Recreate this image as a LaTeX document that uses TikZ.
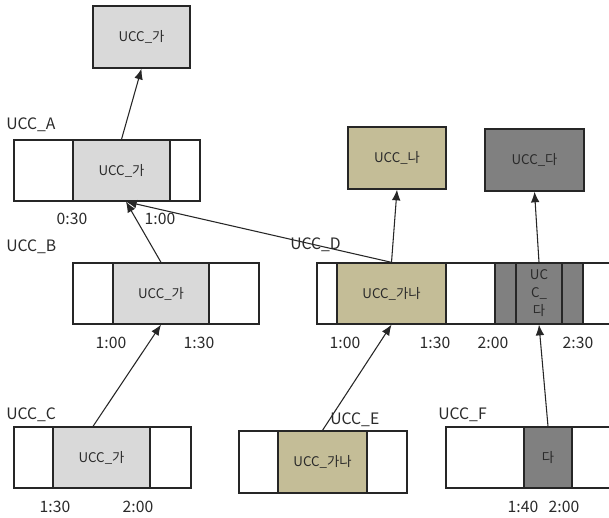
\documentclass[tikz,border=0pt]{standalone}
\usepackage{fontspec}
\setmainfont{Noto Sans CJK KR}
\usetikzlibrary{arrows.meta,positioning,calc}
\definecolor{lgray}{HTML}{D9D9D9}
\definecolor{tan}{HTML}{C4BD97}
\definecolor{dgray}{HTML}{808080}
\definecolor{edge}{HTML}{262626}
\definecolor{txt}{HTML}{2A2A2A}
\newdimen\px \px=0.75pt
\tikzset{
  box/.style={draw=edge,line width=1pt,rectangle,inner sep=0pt,minimum height=61\px,text=txt,font=\fontsize{10}{12}\selectfont},
  outerbox/.style={box,fill=white},
  lbl/.style={text=txt,font=\fontsize{11.8}{13}\selectfont,inner sep=0pt},
  conn/.style={draw=edge,line width=0.8pt,-{Latex[length=8pt,width=6.5pt]}},
}
\begin{document}
\begin{tikzpicture}[x=0.75pt,y=-0.75pt]
\useasboundingbox (0,0) rectangle (609,517);
\fill[white] (0,0) rectangle (609,517);
\clip (0,0) rectangle (609,517);
% top box
\node[box,fill=lgray,minimum width=97\px,minimum height=62\px] (top1) at (141.5,37) {UCC\_가};
% A
\node[outerbox,minimum width=186\px] (Ao) at (107,170.5) {};
\node[box,fill=lgray,minimum width=97\px] (Ai) at (121.5,170.5) {UCC\_가};
\node[lbl,anchor=west] (Alab) at (6,125) {UCC\_A};
\node[lbl] (At1) at (72,219) {0:30};
\node[lbl] (At2) at (160,219) {1:00};
% B
\node[outerbox,minimum width=186\px] (Bo) at (166,293.5) {};
\node[box,fill=lgray,minimum width=96\px] (Bi) at (161,293.5) {UCC\_가};
\node[lbl,anchor=west] (Blab) at (6,247) {UCC\_B};
\node[lbl] (Bt1) at (111,343) {1:00};
\node[lbl] (Bt2) at (199,343) {1:30};
% C
\node[outerbox,minimum width=177\px] (Co) at (102.5,457.5) {};
\node[box,fill=lgray,minimum width=97\px] (Ci) at (101.5,457.5) {UCC\_가};
\node[lbl,anchor=west] (Clab) at (6,415) {UCC\_C};
\node[lbl] (Ct1) at (55,507) {1:30};
\node[lbl] (Ct2) at (138,507) {2:00};
% D
\node[outerbox,minimum width=320\px] (Do) at (477,293.5) {};
\node[box,fill=tan,minimum width=109\px] (Dt) at (391.5,293.5) {UCC\_가나};
\node[box,fill=dgray,minimum width=88\px] (Ddo) at (539,293.5) {};
\node[box,fill=dgray,minimum width=46\px,align=center,font=\fontsize{10}{13.5}\selectfont] (Dd) at (539,293.5) {UC\\C\_\\다};
\node[lbl,anchor=west] (Dlab) at (290,245) {UCC\_D};
\node[lbl] (Dt1) at (345,343) {1:00};
\node[lbl] (Dt2) at (435,343) {1:30};
\node[lbl] (Dt3) at (493,343) {2:00};
\node[lbl] (Dt4) at (578,343) {2:30};
% na / da boxes
\node[box,fill=tan,minimum width=98\px,minimum height=62\px] (Na) at (397,158) {UCC\_나};
\node[box,fill=dgray,minimum width=99\px,minimum height=62\px] (Da) at (534.5,160) {UCC\_다};
% E
\node[outerbox,minimum width=168\px,minimum height=62\px] (Eo) at (323,462) {};
\node[box,fill=tan,minimum width=89\px,minimum height=62\px] (Ei) at (322.5,462) {UCC\_가나};
% F
\node[outerbox,minimum width=200\px] (Fo) at (546,457.5) {};
\node[box,fill=dgray,minimum width=48\px] (Fd) at (548,457.5) {다};
\node[lbl,anchor=west] (Flab) at (438,415) {UCC\_F};
\node[lbl] (Ft1) at (523,507) {1:40};
\node[lbl] (Ft2) at (564,507) {2:00};
% connectors
\coordinate (ahit) at ([xshift=4.5\px]Ai.south);
\coordinate (cstart) at ([xshift=-8.5\px]Ci.north);
\draw[conn] (Ai.north) -- (top1.south);
\draw[conn] (Bi.north) -- (ahit);
\draw[conn] (Dt.north) -- (ahit);
\draw[conn] (cstart) -- (Bi.south);
\draw[conn] (Dt.north) -- (Na.south);
\draw[conn] (Dd.north) -- (Da.south);
\draw[conn] (Ei.north) -- (Dt.south);
\draw[conn] (Fd.north) -- (Dd.south);
\node[lbl,anchor=west] (Elab) at (330,420) {UCC\_E};
\end{tikzpicture}
\end{document}
